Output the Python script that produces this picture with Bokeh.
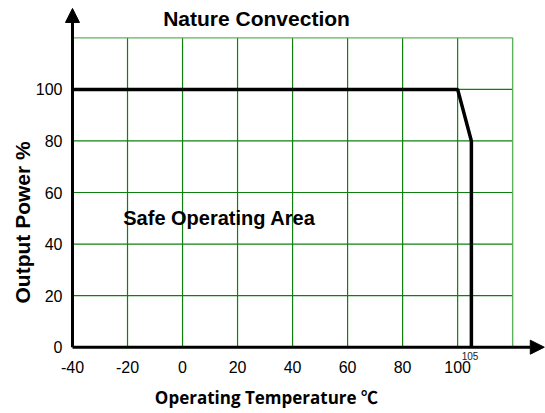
import math
from bokeh.plotting import figure
from bokeh.models import Label, Arrow, NormalHead, Range1d
from bokeh.embed import file_html
from bokeh.resources import INLINE

# data
temps = [-40, 100, 105, 105]
power = [100, 100, 80, 0]
x_ticks = [-40, -20, 0, 20, 40, 60, 80, 100]
x_labels = ["-40", "-20", "0", "20", "40", "60", "80", "100"]
y_ticks = [0, 20, 40, 60, 80, 100]
y_labels = ["0", "20", "40", "60", "80", "100"]
grid_x = [-40, -20, 0, 20, 40, 60, 80, 100, 120]
grid_y = [0, 20, 40, 60, 80, 100, 120]

p = figure(width=545, height=413, output_backend="svg", toolbar_location=None,
           x_range=Range1d(-66.17, 131.94), y_range=Range1d(-25.72, 134.48),
           x_axis_location=None, y_axis_location=None, min_border=0)
p.outline_line_color = None
p.xgrid.visible = False
p.ygrid.visible = False
p.background_fill_color = "white"
p.border_fill_color = "white"

gx0, gx1 = min(grid_x), max(grid_x)
gy0, gy1 = min(grid_y), max(grid_y)
# grid
p.segment(x0=grid_x[1:-1], y0=[gy0] * (len(grid_x) - 2), x1=grid_x[1:-1], y1=[gy1] * (len(grid_x) - 2),
          line_color="#0f800f", line_width=1.2)
p.segment(x0=[gx0] * (len(grid_y) - 2), y0=grid_y[1:-1], x1=[gx1] * (len(grid_y) - 2), y1=grid_y[1:-1],
          line_color="#0f800f", line_width=1.2)
p.segment(x0=[gx1, gx0], y0=[gy0, gy1], x1=[gx1, gx1], y1=[gy1, gy1],
          line_color="#5cb35c", line_width=1.4)

p.line(temps, power, line_color="black", line_width=3.5)

# axes with arrow heads
p.add_layout(Arrow(end=NormalHead(size=14, fill_color="black", line_color="black"),
                   x_start=gx0, y_start=gy0, x_end=131.5, y_end=gy0, line_width=3, line_color="black"))
p.add_layout(Arrow(end=NormalHead(size=14, fill_color="black", line_color="black"),
                   x_start=gx0, y_start=gy0, x_end=gx0, y_end=131.4, line_width=3, line_color="black"))

# tick labels
p.text(x=x_ticks, y=[gy0] * len(x_ticks), text=x_labels, text_font={"value": "Liberation Sans"},
       text_font_size="16px", text_align="center", text_baseline="top", y_offset=14,
       text_color="black")
p.text(x=[gx0] * len(y_ticks), y=y_ticks, text=y_labels, text_font={"value": "Liberation Sans"},
       text_font_size="16px", text_align="right", text_baseline="middle", x_offset=-10,
       text_color="black")

p.add_layout(Label(x=26.9, y=127.5, text="Nature Convection", text_font="Liberation Sans",
                   text_font_style="bold", text_font_size="21px", text_align="center",
                   text_baseline="middle", text_color="black"))
p.add_layout(Label(x=13.4, y=50.3, text="Safe Operating Area", text_font="Liberation Sans",
                   text_font_style="bold", text_font_size="20px", text_align="center",
                   text_baseline="middle", text_color="black"))
p.add_layout(Label(x=104.5, y=-3.6, text="105", text_font="Liberation Sans",
                   text_font_size="10px", text_align="center",
                   text_baseline="middle", text_color="#222222"))
p.add_layout(Label(x=30.5, y=-19.5, text="Operating Temperature ℃",
                   text_font="'Open Sans', 'Noto Sans CJK SC'",
                   text_font_style="bold", text_font_size="17px", text_align="center",
                   text_baseline="middle", text_color="black"))
p.add_layout(Label(x=-58.2, y=48.4, text="Output Power %", text_font="Liberation Sans",
                   text_font_style="bold", text_font_size="21px", text_align="center",
                   text_baseline="middle", angle=math.pi / 2, text_color="black"))

open("out.html", "w").write(file_html(p, INLINE))
